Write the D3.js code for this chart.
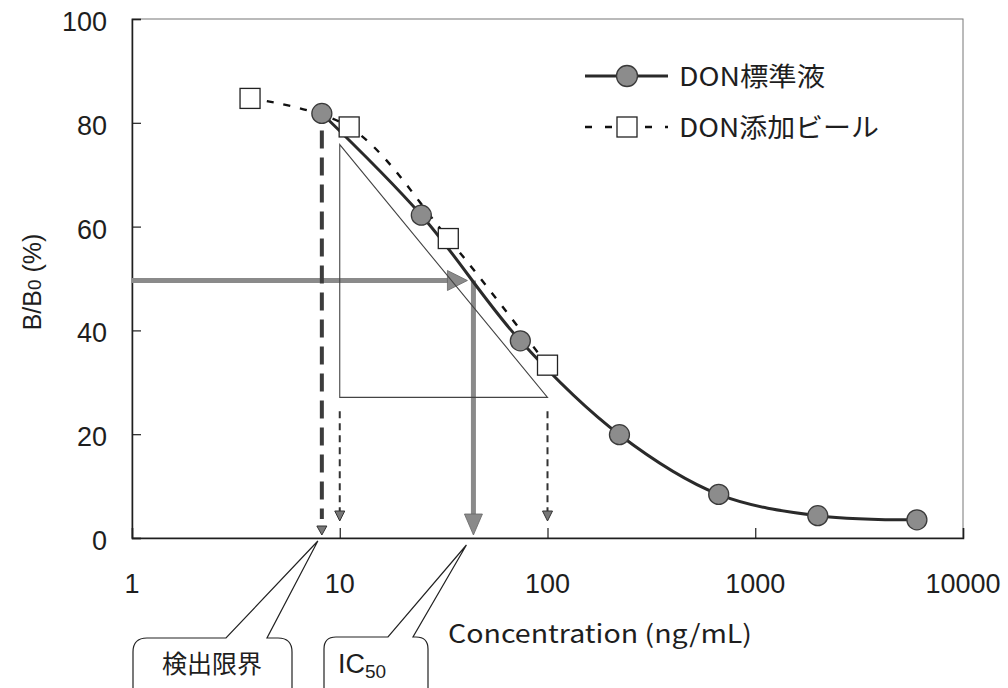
<!DOCTYPE html>
<html><head><meta charset="utf-8">
<script src="https://cdn.jsdelivr.net/npm/d3@7"></script>
<style>
html,body{margin:0;padding:0;background:#fff;}
svg{display:block;}
</style></head><body>
<svg id="chart" width="1008" height="688"></svg>
<script>
// DON competitive ELISA: B/B0 (%) against concentration (ng/mL), log x axis
const stdConc = [8.2, 24.7, 74, 222, 667, 2000, 6000];
const stdRatio = [81.8, 62.2, 38.0, 19.9, 8.4, 4.3, 3.5];
const beerConc = [3.7, 11.1, 33.3, 100];
const beerRatio = [84.7, 79.2, 57.7, 33.3];
const xTicks = [1, 10, 100, 1000, 10000];
const yTicks = [0, 20, 40, 60, 80, 100];
const seriesNames = ["DON標準液", "DON添加ビール"];
const lodConc = 8.2;          // detection limit
const ic50Conc = 44;          // concentration at 50 % inhibition
const halfRatio = 50;
const slopeConc = [10, 100];  // working-range triangle
const slopeRatio = [75.8, 27.1];
const calloutLabels = ["検出限界", "IC", "50"];

const svg = d3.select("#chart");
const x = d3.scaleLog().domain([1, 10000]).range([132, 963]);
const y = d3.scaleLinear().domain([0, 100]).range([538, 19]);

const numFont = "'Liberation Sans', Arial, sans-serif";
const jpFont = "'Noto Sans CJK JP', 'Noto Sans', sans-serif";
const ink = "#1e1e1e";

// plot frame
svg.append("rect")
  .attr("x", x(1)).attr("y", y(100))
  .attr("width", x(10000) - x(1)).attr("height", y(0) - y(100))
  .attr("fill", "none").attr("stroke", "#777").attr("stroke-width", 1);

// axes with inward ticks
const yAxis = svg.append("g").attr("transform", `translate(${x(1)},0)`)
  .call(d3.axisRight(y).tickValues(yTicks).tickSize(9).tickFormat(""));
const xAxis = svg.append("g").attr("transform", `translate(0,${y(0)})`)
  .call(d3.axisTop(x).tickValues(xTicks).tickSize(10).tickFormat(""));
[yAxis, xAxis].forEach(g => {
  g.select(".domain").attr("stroke", ink).attr("stroke-width", 1.5);
  g.selectAll(".tick line").attr("stroke", ink).attr("stroke-width", 1.2);
});

// tick labels
svg.append("g").selectAll("text").data(yTicks).join("text")
  .attr("x", 107).attr("y", d => y(d) + 12)
  .attr("text-anchor", "end")
  .attr("font-family", numFont).attr("font-size", 27).attr("fill", ink)
  .text(d => d);
svg.append("g").selectAll("text").data(xTicks).join("text")
  .attr("x", d => x(d)).attr("y", 593)
  .attr("text-anchor", "middle")
  .attr("font-family", numFont).attr("font-size", 27).attr("fill", ink)
  .text(d => d);

// axis titles
const yTitle = svg.append("text")
  .attr("transform", `translate(41,282) rotate(-90)`)
  .attr("text-anchor", "middle")
  .attr("font-family", numFont).attr("font-size", 25).attr("fill", ink);
yTitle.append("tspan").text("B/B");
yTitle.append("tspan").attr("font-size", 19).text("0");
yTitle.append("tspan").text(" (%)");

svg.append("text")
  .attr("x", 448).attr("y", 643)
  .attr("font-family", jpFont).attr("font-size", 25).attr("fill", ink)
  .attr("textLength", 304).attr("lengthAdjust", "spacingAndGlyphs")
  .text("Concentration (ng/mL)");

// IC50 read-off arrows (thick grey)
const arrowGrey = "#8a8a8a";
const xi = x(ic50Conc), yh = y(halfRatio) + 2;
svg.append("line")
  .attr("x1", x(1)).attr("x2", xi - 24).attr("y1", yh).attr("y2", yh)
  .attr("stroke", arrowGrey).attr("stroke-width", 5);
svg.append("path")
  .attr("d", `M${xi - 26},${yh - 10} L${xi - 6},${yh} L${xi - 26},${yh + 10} Z`)
  .attr("fill", arrowGrey).attr("stroke", "#666").attr("stroke-width", 0.8);
svg.append("line")
  .attr("x1", xi).attr("x2", xi).attr("y1", yh).attr("y2", y(0) - 22)
  .attr("stroke", arrowGrey).attr("stroke-width", 5);
svg.append("path")
  .attr("d", `M${xi - 9},${y(0) - 24} L${xi},${y(0) - 3} L${xi + 9},${y(0) - 24} Z`)
  .attr("fill", arrowGrey).attr("stroke", "#666").attr("stroke-width", 0.8);

// detection limit drop line
const xl = x(lodConc);
svg.append("line")
  .attr("x1", xl).attr("x2", xl).attr("y1", y(stdRatio[0]) + 17).attr("y2", y(0) - 19)
  .attr("stroke", "#3c3c3c").attr("stroke-width", 4)
  .attr("stroke-dasharray", "18,9");
svg.append("path")
  .attr("d", `M${xl - 5},${y(0) - 12} L${xl},${y(0) - 3} L${xl + 5},${y(0) - 12} Z`)
  .attr("fill", "#777").attr("stroke", "#333").attr("stroke-width", 1);

// working-range triangle
const tx0 = x(slopeConc[0]), tx1 = x(slopeConc[1]);
const ty0 = y(slopeRatio[0]), ty1 = y(slopeRatio[1]);
svg.append("path")
  .attr("d", `M${tx0},${ty0} L${tx0},${ty1} L${tx1},${ty1} Z`)
  .attr("fill", "none").attr("stroke", "#444").attr("stroke-width", 1.1);

// thin dashed drop arrows at the range limits
slopeConc.forEach(c => {
  const cx = x(c);
  svg.append("line")
    .attr("x1", cx).attr("x2", cx).attr("y1", ty1 + 14).attr("y2", y(0) - 27)
    .attr("stroke", "#333").attr("stroke-width", 2)
    .attr("stroke-dasharray", "7,5");
  svg.append("path")
    .attr("d", `M${cx - 5},${y(0) - 27} L${cx},${y(0) - 17} L${cx + 5},${y(0) - 27} Z`)
    .attr("fill", "#777").attr("stroke", "#333").attr("stroke-width", 1);
});

// curves
const line = d3.line()
  .x(d => x(d[0])).y(d => y(d[1]))
  .curve(d3.curveCatmullRom.alpha(0.5));
const stdPts = stdConc.map((c, i) => [c, stdRatio[i]]);
const beerPts = beerConc.map((c, i) => [c, beerRatio[i]]);

svg.append("path").attr("d", line(beerPts))
  .attr("fill", "none").attr("stroke", "#111").attr("stroke-width", 2.4)
  .attr("stroke-dasharray", "7,10");
svg.append("path").attr("d", line(stdPts))
  .attr("fill", "none").attr("stroke", "#2a2a2a").attr("stroke-width", 3);

// markers
svg.append("g").selectAll("circle").data(stdPts).join("circle")
  .attr("cx", d => x(d[0])).attr("cy", d => y(d[1])).attr("r", 10)
  .attr("fill", "#8c8c8c").attr("stroke", "#3a3a3a").attr("stroke-width", 1.3);
svg.append("g").selectAll("rect").data(beerPts).join("rect")
  .attr("x", d => x(d[0]) - 10).attr("y", d => y(d[1]) - 10)
  .attr("width", 20).attr("height", 20)
  .attr("fill", "#fff").attr("stroke", "#222").attr("stroke-width", 1.3);

// legend
const lg = svg.append("g");
lg.append("line").attr("x1", 585).attr("x2", 668).attr("y1", 76).attr("y2", 76)
  .attr("stroke", "#2a2a2a").attr("stroke-width", 3);
lg.append("circle").attr("cx", 627).attr("cy", 76).attr("r", 10.5)
  .attr("fill", "#8c8c8c").attr("stroke", "#3a3a3a").attr("stroke-width", 1.3);
lg.append("line").attr("x1", 585).attr("x2", 668).attr("y1", 127).attr("y2", 127)
  .attr("stroke", "#111").attr("stroke-width", 2.4)
  .attr("stroke-dasharray", "7,13");
lg.append("rect").attr("x", 617).attr("y", 117).attr("width", 20).attr("height", 20)
  .attr("fill", "#fff").attr("stroke", "#222").attr("stroke-width", 1.3);
lg.selectAll("text").data(seriesNames).join("text")
  .attr("x", 679).attr("y", (d, i) => 86 + i * 51)
  .attr("font-family", jpFont).attr("font-size", 26).attr("fill", ink)
  .attr("textLength", (d, i) => i === 0 ? 146 : 200)
  .attr("lengthAdjust", "spacingAndGlyphs")
  .text(d => d);

// speech-bubble callouts pointing at the axis
function bubble(left, right, top, bottom, r, b1, b2, tip) {
  return `M${left},${bottom} L${left},${top + r} Q${left},${top} ${left + r},${top} ` +
    `L${b1},${top} L${tip[0]},${tip[1]} L${b2},${top} ` +
    `L${right - r},${top} Q${right},${top} ${right},${top + r} L${right},${bottom}`;
}
svg.append("path")
  .attr("d", bubble(133, 292, 638, 700, 14, 226, 267, [xl - 4, y(0) + 3]))
  .attr("fill", "#fff").attr("stroke", "#222").attr("stroke-width", 1.2);
svg.append("path")
  .attr("d", bubble(324, 428, 637, 700, 12, 388, 413, [xi - 7, y(0) + 7]))
  .attr("fill", "#fff").attr("stroke", "#222").attr("stroke-width", 1.2);

svg.append("text")
  .attr("x", 212).attr("y", 673).attr("text-anchor", "middle")
  .attr("font-family", jpFont).attr("font-size", 25).attr("fill", ink)
  .text(calloutLabels[0]);
const ic = svg.append("text")
  .attr("x", 338).attr("y", 673)
  .attr("font-family", numFont).attr("font-size", 27).attr("fill", ink);
ic.append("tspan").text(calloutLabels[1]);
ic.append("tspan").attr("font-size", 19).attr("dy", 5).text(calloutLabels[2]);
</script>
</body></html>
